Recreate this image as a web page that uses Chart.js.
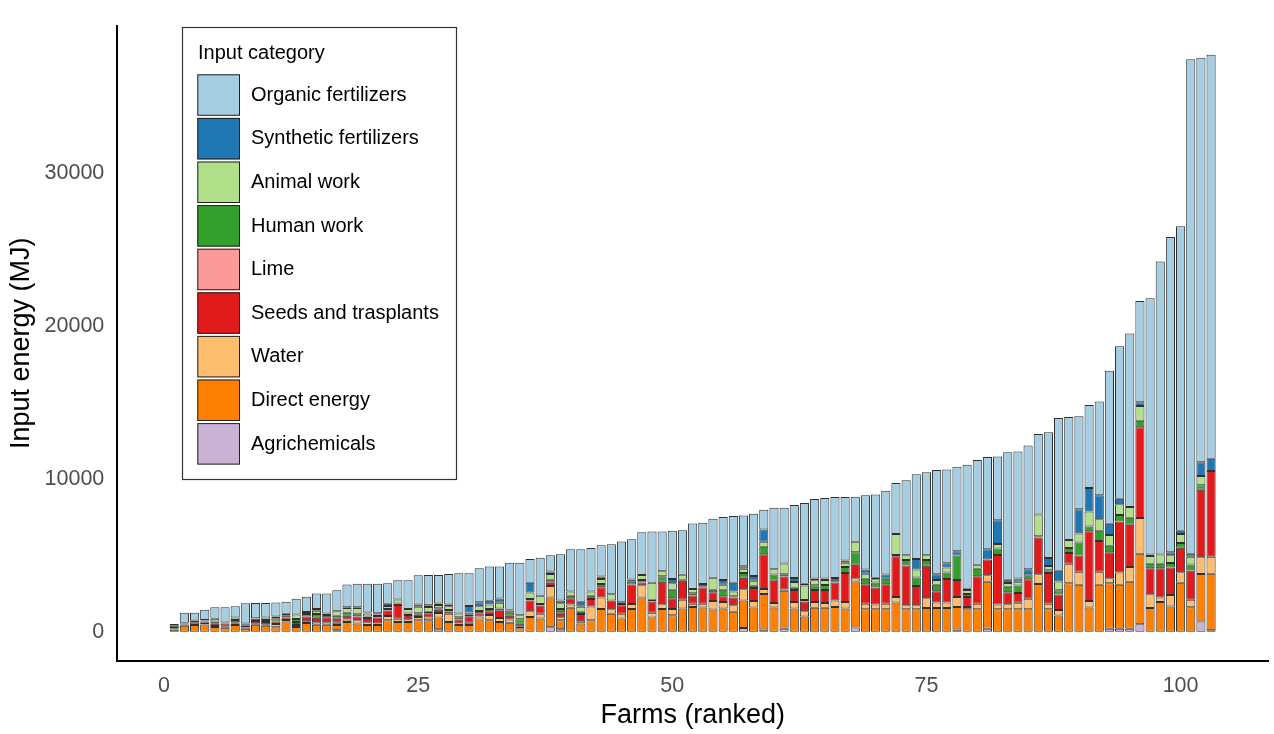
<!DOCTYPE html>
<html><head><meta charset="utf-8">
<script src="https://cdn.jsdelivr.net/npm/chart.js@4.4.0/dist/chart.umd.min.js"></script>
<style>html,body{margin:0;padding:0;background:#fff;}canvas{display:block;}</style>
</head><body>
<canvas id="c" width="1274" height="734"></canvas>
<script>
// ---- data ----
const farms = Array.from({length: 103}, (_, i) => i + 1);
const xTicks = [0, 25, 50, 75, 100];
const yTicks = [0, 10000, 20000, 30000];
const legendTitle = 'Input category';

const agrichemicals = [0,0,0,0,0,0,0,0,0,0, 0,0,0,0,0,0,100,0,0,0, 0,0,0,0,0,0,170,0,0,0, 0,0,0,0,0,0,0,300,170,0, 0,0,0,0,0,0,0,0,0,0, 0,0,0,0,0,0,250,0,150,0, 210,0,0,0,0,0,0,280,0,0, 0,0,0,0,0,0,0,150,0,0, 210,0,0,0,0,0,0,0,0,0, 0,0,210,210,210,500,0,0,0,0, 0,680,100];
const directEnergy = [150,400,450,480,320,260,450,200,460,400, 300,680,320,570,470,470,350,650,550,450, 450,760,650,650,760,760,760,650,450,450, 800,760,650,600,230,970,870,1950,580,1570, 550,760,1500,1190,870,1500,2250,930,1500,1080, 1530,1630,1590,1460,1530,1310,1800,1590,2330,1590, 2480,1530,1000,1570,1570,1630,1530,3010,1480,1480, 1480,1910,1480,1480,1550,1550,1550,1480,1480,1480, 3070,1480,1480,1480,1480,3120,1480,1060,3180,3070, 1590,3070,2970,2860,3070,4600,1550,1950,1650,3200, 1600,3100,3700];
const water = [50,80,150,120,60,80,80,80,100,100, 220,100,120,120,150,150,150,150,200,170, 100,270,200,170,210,170,300,530,100,150, 210,340,250,200,100,380,320,740,210,210, 150,890,740,280,320,320,800,320,300,420, 570,210,250,550,420,420,740,420,320,300, 80,420,340,380,320,420,420,210,360,300, 360,360,250,250,640,360,360,640,150,360, 420,300,320,420,680,640,360,360,1270,850, 420,850,320,810,950,2330,900,300,750,700, 500,1100,1100];
const seeds = [50,60,50,80,150,200,100,120,150,150, 160,150,200,320,300,330,250,250,250,280, 380,360,900,280,150,280,210,150,250,420, 200,250,470,250,200,700,530,210,320,420, 470,490,680,570,550,1270,170,740,1480,700, 1230,530,1060,570,380,510,740,850,2270,1440, 850,780,640,780,850,1170,1900,890,1270,1120, 1270,2670,2610,1270,2120,740,1550,1120,640,1800, 1020,3240,780,640,1270,2400,2010,1020,700,1060, 4560,2010,1700,3330,2760,5940,1700,1900,1800,1600, 1900,4400,5600];
const lime = [0,0,0,0,0,0,0,0,0,0, 0,0,0,0,0,0,0,0,0,0, 0,0,0,0,0,0,0,0,0,0, 0,0,0,0,0,0,0,0,0,0, 0,0,0,0,0,0,0,0,0,0, 0,0,0,0,0,0,0,0,0,0, 0,0,0,0,0,0,0,0,0,0, 0,0,0,0,0,0,0,0,0,0, 0,0,0,0,0,0,0,0,0,0, 0,0,0,0,0,0,0,0,0,0, 0,0,0];
const humanWork = [150,60,60,60,150,70,150,100,150,120, 200,150,200,150,250,150,200,200,150,100, 100,100,100,100,100,100,100,100,150,100, 150,150,150,200,300,100,100,200,210,150, 150,210,210,0,80,180,170,100,360,550, 80,150,80,170,420,80,320,150,490,420, 150,150,100,320,320,80,380,810,360,320, 360,80,360,550,380,420,420,1590,210,490, 0,420,360,490,340,80,170,280,320,850, 320,680,420,420,470,425,300,300,300,300, 400,300,0];
const animalWork = [50,0,30,40,170,0,150,50,30,170, 130,100,300,130,200,100,300,300,400,200, 100,200,270,300,420,320,210,250,250,150, 320,280,380,150,250,420,530,380,380,280, 320,280,320,420,0,0,320,1120,320,420, 320,280,0,780,320,320,280,320,320,340, 700,380,950,320,320,0,280,680,320,210, 0,1380,300,530,320,320,320,0,250,250, 0,300,250,250,0,1420,280,570,530,590, 980,740,700,700,700,955,500,600,500,600, 500,600,0];
const syntheticFert = [0,0,0,0,0,0,0,0,0,0, 0,0,0,0,130,0,0,50,60,60, 80,150,0,0,150,100,100,100,0,420, 250,250,280,50,0,640,0,170,170,0, 320,0,170,0,110,150,0,0,0,280, 0,0,150,0,320,570,150,320,800,0, 0,250,110,110,110,210,150,0,280,110, 280,0,0,680,0,380,280,280,80,0, 680,1550,210,210,320,0,530,700,0,1590, 1530,1570,740,360,0,250,100,0,200,200, 200,900,800];
const organicFert = [60,650,510,660,760,1000,750,1320,1000,950, 900,790,1030,1000,1000,1300,1370,1500,1530,1880, 1930,1340,1250,1870,1900,1990,1870,2000,2620,2130, 2230,2240,2090,3070,3440,1550,2490,1060,3030,2760, 3430,2850,2030,3270,3970,2630,2790,3350,2600,3150, 2910,4270,4000,3860,4110,4350,3320,4060,1300,4020, 3640,4770,5270,5200,5260,5300,4150,2950,4850,5440, 5460,3320,4910,5530,5410,6800,6130,5520,8100,6850, 6020,4170,8340,8290,8080,5270,8210,9980,8030,6070, 5420,6130,9990,9970,11330,6610,16750,19150,20600,19900, 32300,26420,26400];

// ---- chart ----
const FONT = '"Liberation Sans", Arial, sans-serif';
const X_MIN = -4.6, X_MAX = 108.6, Y_MIN = -1885, Y_MAX = 39585;
const mk = (label, data, color) => ({label, data, backgroundColor: color,
  borderColor: 'rgba(25,25,25,0.9)', borderWidth: 1, borderSkipped: false,
  categoryPercentage: 1.0, barPercentage: 0.9});

const datasets = [
  mk('Agrichemicals', agrichemicals, '#CAB2D6'),
  mk('Direct energy', directEnergy, '#FF7F00'),
  mk('Water', water, '#FDBF6F'),
  mk('Seeds and trasplants', seeds, '#E31A1C'),
  mk('Lime', lime, '#FB9A99'),
  mk('Human work', humanWork, '#33A02C'),
  mk('Animal work', animalWork, '#B2DF8A'),
  mk('Synthetic fertilizers', syntheticFert, '#1F78B4'),
  mk('Organic fertilizers', organicFert, '#A6CEE3')
];

const boxLegend = {
  id: 'boxLegend',
  afterDraw(chart) {
    const ctx = chart.ctx;
    const items = chart.data.datasets.slice().reverse();
    const bx = 182.5, by = 27.5, bw = 274, bh = 452;
    ctx.save();
    ctx.fillStyle = '#fff';
    ctx.fillRect(bx, by, bw, bh);
    ctx.strokeStyle = '#333';
    ctx.lineWidth = 1.2;
    ctx.strokeRect(bx, by, bw, bh);
    ctx.font = '20px ' + FONT;
    ctx.textBaseline = 'middle';
    ctx.fillStyle = '#000';
    ctx.fillText(legendTitle, 198, 53);
    items.forEach((d, i) => {
      const ky = 74.3 + i * 43.6;
      ctx.fillStyle = d.backgroundColor;
      ctx.fillRect(197.3, ky, 42.7, 41.5);
      ctx.strokeStyle = '#222';
      ctx.lineWidth = 1;
      ctx.strokeRect(197.8, ky + 0.5, 41.7, 40.5);
      ctx.fillStyle = '#000';
      ctx.fillText(d.label, 251, ky + 21);
    });
    ctx.restore();
  }
};

new Chart(document.getElementById('c'), {
  type: 'bar',
  data: { labels: farms, datasets },
  options: {
    responsive: false,
    animation: false,
    devicePixelRatio: 1,
    layout: { padding: { left: 0, right: 6, top: 9, bottom: 0 } },
    plugins: { legend: { display: false }, tooltip: { enabled: false } },
    scales: {
      x: {
        type: 'linear', stacked: true, offset: false, min: X_MIN, max: X_MAX,
        afterBuildTicks: s => { s.min = X_MIN; s.max = X_MAX; s.ticks = xTicks.map(v => ({ value: v })); },
        afterFit: s => { s.height = 73.3; },
        grid: { display: false, drawTicks: false },
        border: { display: true, color: '#000', width: 2 },
        ticks: { padding: 12, color: '#4D4D4D', font: { family: FONT, size: 21.5 }, callback: v => String(v), maxRotation: 0 },
        title: { display: true, text: 'Farms (ranked)', color: '#000', font: { family: FONT, size: 27 }, padding: { top: 0, bottom: 2 } }
      },
      y: {
        stacked: true, min: Y_MIN, max: Y_MAX,
        afterBuildTicks: s => { s.min = Y_MIN; s.max = Y_MAX; s.ticks = yTicks.map(v => ({ value: v })); },
        afterFit: s => { s.width = 117.3; },
        grid: { display: false, drawTicks: false },
        border: { display: true, color: '#000', width: 2 },
        ticks: { padding: 13, color: '#4D4D4D', font: { family: FONT, size: 21.5 }, callback: v => String(v) },
        title: { display: true, text: 'Input energy (MJ)', color: '#000', font: { family: FONT, size: 27 }, padding: { top: 5, bottom: 0 } }
      }
    }
  },
  plugins: [boxLegend]
});
</script>
</body></html>
